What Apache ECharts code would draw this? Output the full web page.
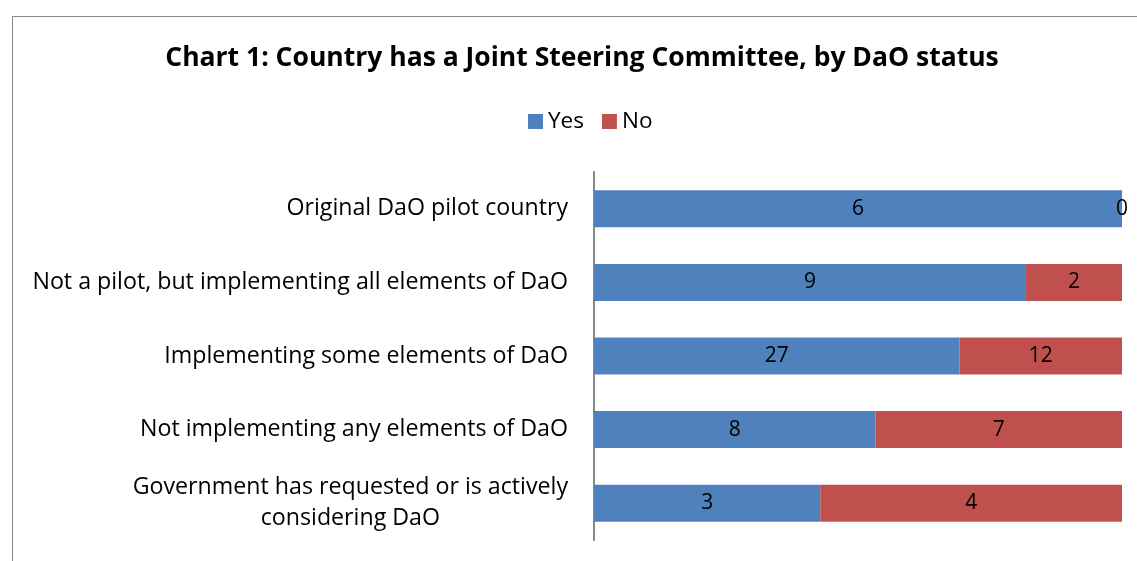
<!DOCTYPE html>
<html><head><meta charset="utf-8">
<script src="https://cdn.jsdelivr.net/npm/echarts@6/dist/echarts.min.js"></script>
<style>
html,body{margin:0;padding:0;background:#fff;}
#frame{position:absolute;left:12px;top:16px;width:1130px;height:560px;border-left:1.5px solid #8a8a8a;border-top:1.5px solid #8a8a8a;}
#c{position:absolute;left:0;top:0;width:1137px;height:561px;}
</style></head>
<body>
<div id="frame"></div>
<div id="c"></div>
<script>
const categories = [
  'Original DaO pilot country',
  'Not a pilot, but implementing all elements of DaO',
  'Implementing some elements of DaO',
  'Not implementing any elements of DaO',
  'Government has requested or is actively\nconsidering DaO'
];
const yesValues = [6, 9, 27, 8, 3];
const noValues = [0, 2, 12, 7, 4];

const FONT = 'Open Sans';
const totals = yesValues.map((v, i) => v + noValues[i]);
const yesPct = yesValues.map((v, i) => v / totals[i] * 100);
const noPct = noValues.map((v, i) => v / totals[i] * 100);

const chart = echarts.init(document.getElementById('c'));
chart.setOption({
  animation: false,
  title: {
    text: 'Chart 1: Country has a Joint Steering Committee, by DaO status',
    left: 577, top: 40, textAlign: 'center',
    textStyle: {fontFamily: FONT, fontSize: 26.5, fontWeight: 'bold', color: '#000'}
  },
  legend: {
    data: ['Yes', 'No'], left: 523, top: 105, icon: 'rect',
    itemWidth: 15, itemHeight: 15, itemGap: 18,
    textStyle: {fontFamily: FONT, fontSize: 22.5, color: '#000'}
  },
  grid: {left: 594, right: 15, top: 172, bottom: 21},
  xAxis: {type: 'value', min: 0, max: 100, show: false},
  yAxis: {
    type: 'category', inverse: true, data: categories,
    axisLine: {lineStyle: {color: '#888', width: 2}},
    axisTick: {show: false},
    axisLabel: {
      margin: 26, fontFamily: FONT, fontSize: 23.2, color: '#000', lineHeight: 31,
      formatter: function (v) {
        return v.split('\n').map(s => '{c|' + s + '}').join('\n');
      },
      rich: {c: {align: 'center', fontFamily: FONT, fontSize: 23.2, color: '#000', lineHeight: 31}}
    }
  },
  series: [
    {
      name: 'Yes', type: 'bar', stack: 's', data: yesPct, barWidth: 37,
      itemStyle: {color: '#4F81BD'},
      label: {show: true, position: 'inside', fontFamily: FONT, fontSize: 21, color: '#000',
        formatter: p => yesValues[p.dataIndex]}
    },
    {
      name: 'No', type: 'bar', stack: 's', data: noPct, barWidth: 37,
      itemStyle: {color: '#C0504D'},
      label: {show: true, position: 'inside', fontFamily: FONT, fontSize: 21, color: '#000',
        formatter: p => noValues[p.dataIndex]}
    }
  ]
});
</script>
</body></html>
